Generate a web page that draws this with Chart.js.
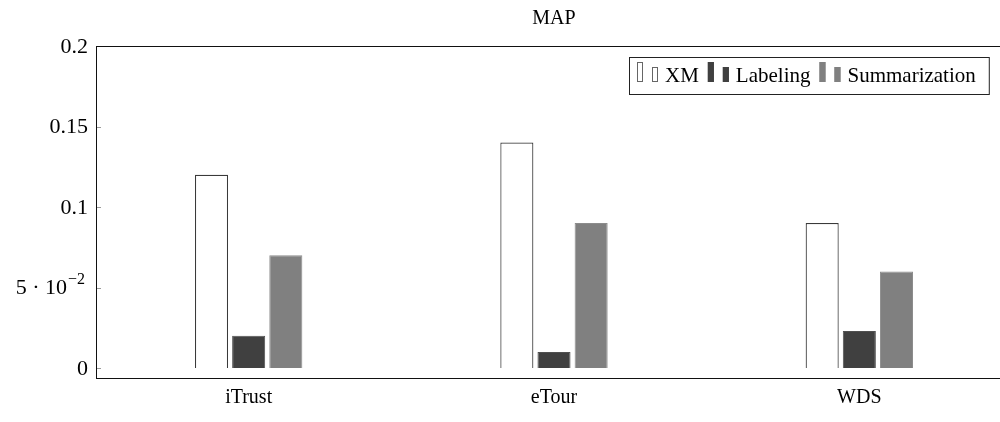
<!DOCTYPE html>
<html><head><meta charset="utf-8">
<script src="https://cdn.jsdelivr.net/npm/chart.js@4"></script>
<style>
html,body{margin:0;padding:0;background:#fff;overflow:hidden;width:1000px;height:422px}
#wrap{width:1012px;height:422px;position:relative}
</style></head>
<body><div id="wrap"><canvas id="c"></canvas></div>
<script>
const chartTitle = 'MAP';
const categories = ['iTrust', 'eTour', 'WDS'];
const seriesNames = ['XM', 'Labeling', 'Summarization'];
const xmValues = [0.12, 0.14, 0.09];
const labelingValues = [0.02, 0.01, 0.023];
const summarizationValues = [0.07, 0.09, 0.06];
const yTickValues = [0, 0.05, 0.1, 0.15, 0.2];
const yTickLabels = ['0', '5 \u00b7 10', '0.1', '0.15', '0.2'];
const yTickSuperscripts = ['', '\u22122', '', '', ''];

const SERIF = "'Liberation Serif', 'Times New Roman', serif";

const framePlugin = {
  id: 'frameAndLegend',
  afterDatasetsDraw(chart) {
    const ctx = chart.ctx;
    const a = chart.chartArea;
    const y = chart.scales.y;
    ctx.save();
    // title centred over the plot area
    ctx.fillStyle = '#000';
    ctx.font = "20px " + SERIF;
    ctx.textAlign = 'center';
    ctx.textBaseline = 'middle';
    ctx.fillText(chartTitle, (a.left + a.right) / 2, 19);
    // y tick labels
    yTickValues.forEach((v, i) => {
      const py = y.getPixelForValue(v);
      let rx = a.left - 8;
      ctx.textAlign = 'right';
      ctx.textBaseline = 'middle';
      if (yTickSuperscripts[i]) {
        rx -= 3;
        ctx.font = "16px " + SERIF;
        ctx.fillText(yTickSuperscripts[i], rx, py - 8);
        rx -= ctx.measureText(yTickSuperscripts[i]).width + 1;
      }
      ctx.font = "22px " + SERIF;
      ctx.fillText(yTickLabels[i], rx, py + 1);
    });
    // inward ticks
    ctx.strokeStyle = '#9a9a9a';
    ctx.lineWidth = 1;
    yTickValues.forEach(v => {
      const py = Math.round(y.getPixelForValue(v)) + 0.5;
      ctx.beginPath();
      ctx.moveTo(a.left, py); ctx.lineTo(a.left + 5, py);
      ctx.moveTo(a.right - 5, py); ctx.lineTo(a.right, py);
      ctx.stroke();
    });
    // frame
    ctx.strokeStyle = '#111';
    ctx.lineWidth = 1;
    ctx.strokeRect(Math.round(a.left) + 0.5, Math.round(a.top) + 0.5,
                   Math.round(a.right - a.left), Math.round(a.bottom - a.top));
    // legend
    ctx.font = "21px " + SERIF;
    ctx.textAlign = 'left';
    ctx.textBaseline = 'alphabetic';
    const ds = chart.data.datasets;
    const bx = 629, by = 57, bh = 37;
    let x = bx + 8;
    const items = [];
    ds.forEach(d => {
      items.push({d, x1: x, x2: x + 15, tx: x + 28});
      x = x + 28 + ctx.measureText(d.label).width + 9;
    });
    const bw = x - bx + 4;
    ctx.fillStyle = '#fff';
    ctx.fillRect(bx, by, bw, bh);
    ctx.strokeStyle = '#222';
    ctx.strokeRect(bx + 0.5, by + 0.5, bw, bh);
    const base = by + 25;
    items.forEach(it => {
      ctx.fillStyle = it.d.backgroundColor;
      ctx.strokeStyle = it.d.legendBorder;
      ctx.lineWidth = 1;
      ctx.fillRect(it.x1, by + 5, 6, base - by - 5);
      ctx.strokeRect(it.x1 + 0.5, by + 5.5, 5, base - by - 6);
      ctx.fillRect(it.x2, by + 10, 6, base - by - 10);
      ctx.strokeRect(it.x2 + 0.5, by + 10.5, 5, base - by - 11);
      ctx.fillStyle = '#000';
      ctx.fillText(it.d.label, it.tx, base);
    });
    ctx.restore();
  }
};

new Chart(document.getElementById('c'), {
  type: 'bar',
  data: {
    labels: categories,
    datasets: [
      {label: seriesNames[0], data: xmValues, backgroundColor: '#ffffff', borderColor: '#3a3a3a', borderWidth: 1.2, legendBorder: '#666'},
      {label: seriesNames[1], data: labelingValues, backgroundColor: '#404040', borderColor: '#505050', borderWidth: 1, legendBorder: '#404040'},
      {label: seriesNames[2], data: summarizationValues, backgroundColor: '#808080', borderColor: '#8c8c8c', borderWidth: 1, legendBorder: '#808080'}
    ]
  },
  options: {
    responsive: true,
    maintainAspectRatio: false,
    animation: false,
    devicePixelRatio: 1,
    layout: {padding: {top: 46, left: 0, right: 0, bottom: 0}},
    datasets: {bar: {categoryPercentage: 0.365, barPercentage: 0.89}},
    plugins: {
      legend: {display: false},
      tooltip: {enabled: false},
      title: {display: false}
    },
    scales: {
      x: {
        grid: {display: false, drawTicks: false},
        border: {display: false},
        ticks: {color: '#000', font: {family: SERIF, size: 20}, padding: 8},
        afterFit(s) { s.height = 44; }
      },
      y: {
        min: -0.0062, max: 0.2,
        grid: {display: false, drawTicks: false},
        border: {display: false},
        afterBuildTicks(s) { s.ticks = yTickValues.map(v => ({value: v})); },
        ticks: {display: false},
        afterFit(s) { s.width = 96; }
      }
    }
  },
  plugins: [framePlugin]
});
</script></body></html>
